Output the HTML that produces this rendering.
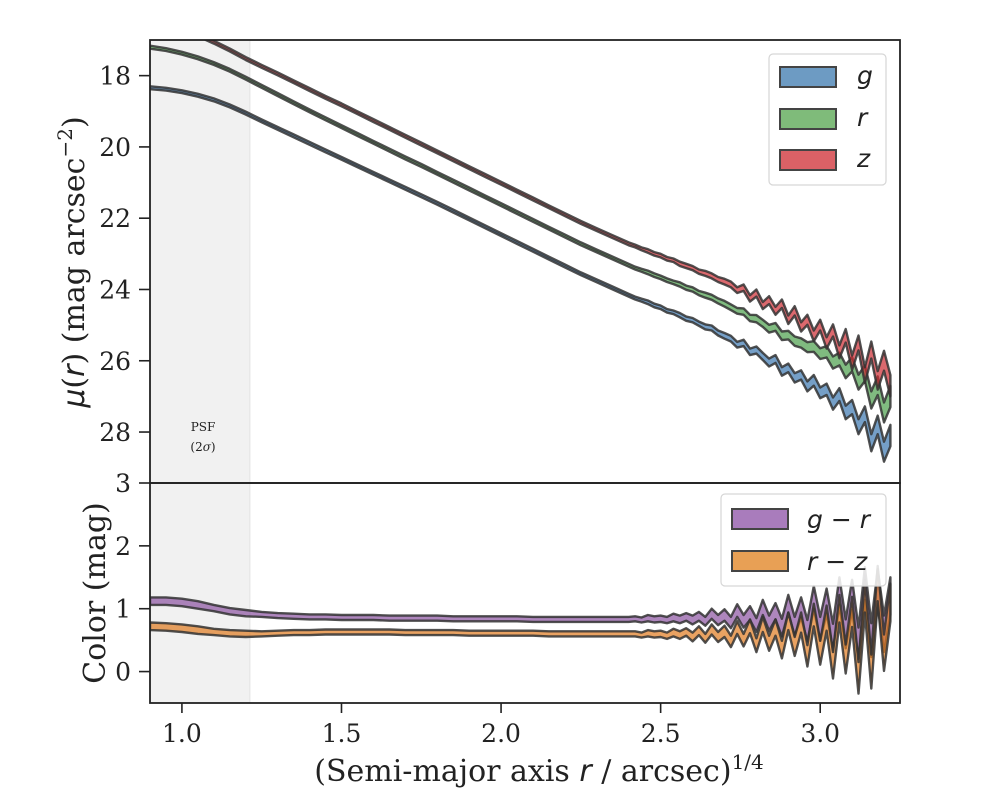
<!DOCTYPE html>
<html><head><meta charset="utf-8"><style>
html,body{margin:0;padding:0;background:#fff;}
svg text{font-family:"DejaVu Serif","Liberation Serif",serif;fill:#222;}
.it{font-family:"DejaVu Sans","Liberation Sans",sans-serif;font-style:italic;}
</style></head><body>
<svg id="chart" width="1000" height="800" xmlns="http://www.w3.org/2000/svg"></svg>
<script>
const xs = [0.90,0.95,1.00,1.05,1.10,1.15,1.20,1.25,1.30,1.35,1.40,1.45,1.50,1.55,1.60,1.65,1.70,1.75,1.80,1.85,1.90,1.95,2.00,2.05,2.10,2.15,2.20,2.25,2.30,2.35,2.40,
2.42,2.44,2.46,2.48,2.50,2.52,2.54,2.56,2.58,2.60,2.62,2.64,2.66,2.68,2.70,2.72,2.74,2.76,2.78,2.80,2.82,2.84,2.86,2.88,2.90,2.92,2.94,2.96,2.98,3.00,3.02,3.04,3.06,3.08,3.10,3.12,3.14,3.16,3.18,3.20,3.22];
const gMag = [18.34,18.38,18.45,18.55,18.68,18.85,19.05,19.27,19.48,19.69,19.90,20.11,20.32,20.53,20.74,20.95,21.16,21.37,21.58,21.80,22.02,22.24,22.46,22.68,22.90,23.12,23.34,23.56,23.76,23.96,24.16,
24.24,24.30,24.36,24.45,24.50,24.60,24.64,24.72,24.82,24.86,24.96,25.05,25.08,25.22,25.30,25.38,25.55,25.50,25.75,25.70,25.88,26.05,25.95,26.30,26.20,26.48,26.40,26.72,26.55,26.90,26.80,27.20,26.95,27.45,27.30,27.85,27.50,28.30,27.80,28.55,28.10];
const rMag = [17.20,17.27,17.37,17.50,17.66,17.85,18.07,18.30,18.53,18.76,18.99,19.21,19.43,19.65,19.87,20.09,20.31,20.52,20.74,20.96,21.18,21.40,21.62,21.84,22.06,22.28,22.50,22.72,22.92,23.12,23.32,
23.40,23.46,23.52,23.60,23.66,23.74,23.80,23.86,23.95,24.00,24.10,24.16,24.22,24.32,24.40,24.50,24.60,24.62,24.80,24.82,24.95,25.10,25.05,25.30,25.28,25.45,25.50,25.62,25.60,25.80,25.75,26.05,25.95,26.30,26.10,26.60,26.35,27.10,26.70,27.45,27.00];
const zMag = [16.55,16.62,16.72,16.86,17.06,17.28,17.52,17.74,17.95,18.17,18.39,18.61,18.82,19.04,19.26,19.48,19.70,19.92,20.14,20.36,20.58,20.80,21.02,21.24,21.46,21.68,21.90,22.12,22.32,22.52,22.72,
22.78,22.86,22.92,23.00,23.05,23.14,23.18,23.28,23.34,23.40,23.50,23.55,23.62,23.72,23.78,23.86,24.02,23.95,24.25,24.10,24.45,24.30,24.60,24.40,24.85,24.60,25.05,24.85,25.30,25.00,25.50,25.15,25.75,25.30,26.05,25.50,26.40,25.70,26.55,26.00,26.70];
const magErr = [0.04,0.04,0.04,0.04,0.04,0.04,0.04,0.04,0.04,0.04,0.04,0.04,0.04,0.04,0.04,0.04,0.04,0.04,0.04,0.04,0.04,0.04,0.04,0.04,0.04,0.04,0.04,0.04,0.04,0.04,0.04,
0.04,0.04,0.05,0.05,0.05,0.05,0.05,0.06,0.06,0.06,0.06,0.07,0.07,0.07,0.08,0.08,0.08,0.09,0.09,0.10,0.10,0.11,0.11,0.12,0.12,0.13,0.13,0.14,0.15,0.15,0.16,0.17,0.18,0.19,0.20,0.21,0.22,0.24,0.26,0.28,0.30];
const grCol = [1.12,1.12,1.10,1.06,1.01,0.96,0.93,0.91,0.89,0.88,0.87,0.87,0.86,0.86,0.86,0.85,0.85,0.85,0.85,0.84,0.84,0.84,0.84,0.84,0.83,0.83,0.83,0.83,0.83,0.83,0.83,
0.84,0.82,0.85,0.83,0.84,0.82,0.86,0.83,0.87,0.82,0.88,0.80,0.92,0.82,0.90,0.78,0.97,0.80,0.93,0.74,1.02,0.77,0.96,0.70,1.08,0.72,1.02,0.65,1.18,0.68,1.12,0.55,1.28,0.60,1.22,0.45,1.40,0.50,1.35,0.60,1.20];
const rzCol = [0.72,0.71,0.69,0.66,0.63,0.61,0.60,0.60,0.61,0.62,0.62,0.63,0.63,0.63,0.63,0.63,0.62,0.62,0.62,0.62,0.61,0.61,0.61,0.61,0.61,0.60,0.60,0.60,0.60,0.60,0.60,
0.60,0.58,0.61,0.59,0.60,0.57,0.62,0.58,0.63,0.55,0.65,0.53,0.67,0.55,0.64,0.48,0.70,0.50,0.72,0.42,0.75,0.45,0.70,0.35,0.80,0.40,0.78,0.25,0.90,0.30,0.85,0.10,1.00,0.20,0.95,-0.10,1.20,0.00,1.40,0.30,1.10];
const colErr = [0.06,0.06,0.06,0.06,0.05,0.05,0.05,0.04,0.04,0.04,0.04,0.04,0.04,0.04,0.04,0.04,0.04,0.04,0.04,0.04,0.04,0.04,0.04,0.04,0.04,0.04,0.04,0.04,0.04,0.04,0.04,
0.04,0.04,0.05,0.05,0.05,0.05,0.06,0.06,0.06,0.07,0.07,0.07,0.08,0.08,0.09,0.09,0.10,0.10,0.11,0.11,0.12,0.12,0.13,0.14,0.14,0.15,0.16,0.17,0.18,0.19,0.20,0.21,0.22,0.23,0.24,0.25,0.26,0.27,0.28,0.29,0.30];
const xTicks = [1.0,1.5,2.0,2.5,3.0];
const xTickLabels = ["1.0","1.5","2.0","2.5","3.0"];
const magTicks = [18,20,22,24,26,28];
const colTicks = [0,1,2,3];
const psfLimit = 1.213;

const svg = document.getElementById('chart');
const NS = 'http://www.w3.org/2000/svg';
const L=150,R=900,T1=40,B1=483,T2=483,B2=703;
const X0=0.9,X1=3.25, M0=17, M1=29.43, C0=-0.5, C1=3;
const sx = v => L + (v-X0)/(X1-X0)*(R-L);
const sy1 = v => T1 + (v-M0)/(M1-M0)*(B1-T1);
const sy2 = v => B2 - (v-C0)/(C1-C0)*(B2-T2);
function mk(tag, attrs, parent){const e=document.createElementNS(NS,tag);for(const k in attrs)e.setAttribute(k,attrs[k]);(parent||svg).appendChild(e);return e;}

const defs = mk('defs',{});
const c1 = mk('clipPath',{id:'clip1'},defs); mk('rect',{x:L,y:T1,width:R-L,height:B1-T1},c1);
const c2 = mk('clipPath',{id:'clip2'},defs); mk('rect',{x:L,y:T2,width:R-L,height:B2-T2},c2);

const psf1 = mk('rect',{x:sx(X0),y:T1,width:sx(psfLimit)-sx(X0),height:B1-T1,fill:'#f1f1f1',stroke:'#e2e2e2'});


const psf2 = mk('rect',{x:sx(X0),y:T2,width:sx(psfLimit)-sx(X0),height:B2-T2,fill:'#f1f1f1',stroke:'#e2e2e2'});



function band(vals, errs, sy, fill, clip, name){
  let up=[],lo=[];
  for(let i=0;i<xs.length;i++){up.push(sx(xs[i]).toFixed(1)+','+sy(vals[i]-errs[i]).toFixed(1));lo.push(sx(xs[i]).toFixed(1)+','+sy(vals[i]+errs[i]).toFixed(1));}
  const g = mk('g',{'clip-path':'url(#'+clip+')'});
  const p = mk('polygon',{points:up.concat(lo.reverse()).join(' '),fill:fill,'fill-opacity':0.7,stroke:'#333','stroke-opacity':0.85,'stroke-width':2.4,'stroke-linejoin':'round'},g);
  
  
}
band(gMag,magErr,sy1,'#3a76af','clip1','g-band-profile');
band(rMag,magErr,sy1,'#4a9e4a','clip1','r-band-profile');
band(zMag,magErr,sy1,'#cc2a30','clip1','z-band-profile');
band(grCol,colErr,sy2,'#8b52a1','clip2','g-r-color-profile');
band(rzCol,colErr,sy2,'#e07b1f','clip2','r-z-color-profile');

const f1 = mk('rect',{x:L,y:T1,width:R-L,height:B1-T1,fill:'none',stroke:'#222','stroke-width':1.8});


const f2 = mk('rect',{x:L,y:T2,width:R-L,height:B2-T2,fill:'none',stroke:'#222','stroke-width':1.8});



xTicks.forEach((v,i)=>{
  const t = mk('line',{x1:sx(v),x2:sx(v),y1:B2,y2:B2+10,stroke:'#222','stroke-width':1.6});
  
  
  const lb = mk('text',{x:sx(v),y:B2+39,'text-anchor':'middle','font-size':25});
  lb.textContent = xTickLabels[i];
  
  
});
magTicks.forEach(v=>{
  const t = mk('line',{x1:L-11,x2:L,y1:sy1(v),y2:sy1(v),stroke:'#222','stroke-width':1.6});
  
  
  const lb = mk('text',{x:L-19,y:sy1(v)+9,'text-anchor':'end','font-size':25});
  lb.textContent = String(v);
  
  
});
colTicks.forEach(v=>{
  const t = mk('line',{x1:L-11,x2:L,y1:sy2(v),y2:sy2(v),stroke:'#222','stroke-width':1.6});
  
  
  const lb = mk('text',{x:L-19,y:sy2(v)+9,'text-anchor':'end','font-size':25});
  lb.textContent = String(v);
  
  
});
</script>
<svg style="position:absolute;left:0;top:0" width="1000" height="800" xmlns="http://www.w3.org/2000/svg">
  <text x="203" y="431" text-anchor="middle" font-size="12">PSF</text>
  <text x="203" y="451" text-anchor="middle" font-size="12">(2<tspan font-style="italic">σ</tspan>)</text>
  <g>
    <rect x="769" y="54" width="117" height="131" rx="4" fill="#fff" fill-opacity="0.85" stroke="#d6d6d6" stroke-width="1.2"/>
    <rect x="780" y="67" width="56" height="20" fill="#6d9bc3" stroke="#444" stroke-width="2"/>
    <text class="it" x="857" y="84" font-size="25">g</text>
    <rect x="780" y="109" width="56" height="20" fill="#7fbb7a" stroke="#444" stroke-width="2"/>
    <text class="it" x="857" y="126" font-size="25">r</text>
    <rect x="780" y="150" width="56" height="20" fill="#db6166" stroke="#444" stroke-width="2"/>
    <text class="it" x="857" y="167" font-size="25">z</text>
  </g>
  <g>
    <rect x="721" y="494" width="165" height="92" rx="4" fill="#fff" fill-opacity="0.85" stroke="#d6d6d6" stroke-width="1.2"/>
    <rect x="732" y="509" width="56" height="20" fill="#a97cbc" stroke="#444" stroke-width="2"/>
    <text class="it" x="807" y="528" font-size="25">g − r</text>
    <rect x="732" y="551" width="56" height="20" fill="#e8a055" stroke="#444" stroke-width="2"/>
    <text class="it" x="807" y="570" font-size="25">r − z</text>
  </g>
  <text transform="translate(84,262) rotate(-90)" text-anchor="middle" font-size="30"><tspan class="it">μ</tspan>(<tspan class="it">r</tspan>) (mag arcsec<tspan font-size="20" dy="-12">−2</tspan><tspan dy="12">)</tspan></text>
  <text transform="translate(105,593) rotate(-90)" text-anchor="middle" font-size="30">Color (mag)</text>
  <text x="539" y="781" text-anchor="middle" font-size="30">(Semi-major axis <tspan class="it">r</tspan> / arcsec)<tspan font-size="20" dy="-12">1/4</tspan></text>
</svg>
</body></html>
